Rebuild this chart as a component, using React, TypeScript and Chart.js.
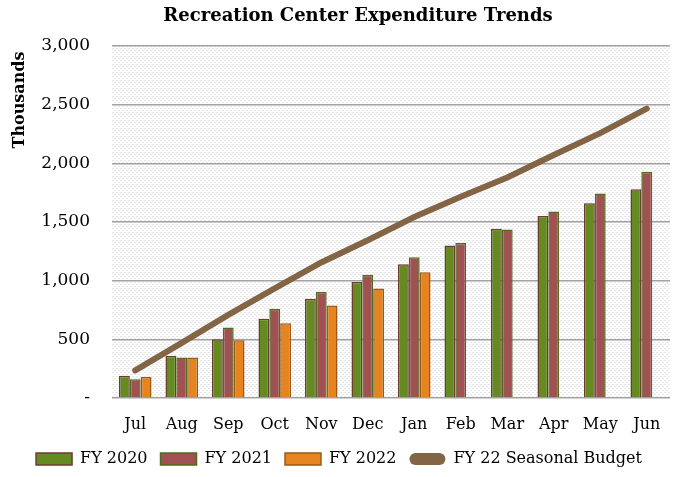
import React, { useEffect, useRef } from "react";
import { Chart, registerables } from "chart.js";

Chart.register(...registerables);

const months = ["Jul", "Aug", "Sep", "Oct", "Nov", "Dec", "Jan", "Feb", "Mar", "Apr", "May", "Jun"];
const fy2020 = [190, 360, 500, 675, 845, 988, 1140, 1300, 1443, 1551, 1660, 1780];
const fy2021 = [160, 345, 600, 760, 905, 1050, 1200, 1320, 1437, 1589, 1743, 1929];
const fy2022 = [178, 345, 492, 638, 788, 934, 1071, null, null, null, null, null];
const budget = [235, 470, 708, 934, 1155, 1345, 1543, 1716, 1880, 2071, 2257, 2466];
const yTicks = [0, 500, 1000, 1500, 2000, 2500, 3000];
const titleText = "Recreation Center Expenditure Trends";
const yTitleText = "Thousands";

const FONT = "'DejaVu Serif', 'Liberation Serif', serif";

function makePattern(ctx: CanvasRenderingContext2D) {
  const c = document.createElement("canvas");
  c.width = 4;
  c.height = 4;
  const p = c.getContext("2d")!;
  p.fillStyle = "#fcfcfc";
  p.fillRect(0, 0, 4, 4);
  p.fillStyle = "#e6e6e6";
  p.fillRect(0, 0, 2, 1);
  p.fillRect(2, 2, 2, 1);
  return ctx.createPattern(c, "repeat");
}

const bgPlugin = {
  id: "plotBg",
  beforeDraw(chart: any) {
    const { ctx, chartArea } = chart;
    const pat = makePattern(ctx);
    ctx.save();
    ctx.fillStyle = pat || "#eeeeee";
    ctx.fillRect(chartArea.left, chartArea.top, chartArea.right - chartArea.left, chartArea.bottom - chartArea.top);
    ctx.restore();
  },
  afterDraw(chart: any) {
    const { ctx } = chart;
    ctx.save();
    ctx.fillStyle = "#000";
    ctx.textAlign = "center";
    ctx.textBaseline = "middle";
    ctx.font = `bold 18px ${FONT}`;
    ctx.fillText(titleText, 358, 16);
    ctx.translate(20, 100);
    ctx.rotate(-Math.PI / 2);
    ctx.font = `bold 16px ${FONT}`;
    ctx.fillText(yTitleText, 0, 0);
    ctx.restore();
  },
};

export default function App() {
  const ref = useRef<HTMLCanvasElement>(null);
  useEffect(() => {
    document.body.style.margin = "0";
    const chart = new Chart(ref.current!, {
      type: "bar",
      data: {
        labels: months,
        datasets: [
          {
            label: "FY 2020",
            data: fy2020,
            backgroundColor: "#658a21",
            borderColor: "#6b3d30",
            borderWidth: 1.5,
            order: 1,
            categoryPercentage: 0.7,
            barPercentage: 1,
          } as any,
          {
            label: "FY 2021",
            data: fy2021,
            backgroundColor: "#a05252",
            borderColor: "#4e6b1e",
            borderWidth: 1.5,
            order: 1,
            categoryPercentage: 0.7,
            barPercentage: 1,
          },
          {
            label: "FY 2022",
            data: fy2022,
            backgroundColor: "#e6851f",
            borderColor: "#9a5a1a",
            borderWidth: 1.5,
            order: 1,
            categoryPercentage: 0.7,
            barPercentage: 1,
          },
          {
            type: "line",
            label: "FY 22 Seasonal Budget",
            data: budget,
            borderColor: "#836445",
            backgroundColor: "#836445",
            borderWidth: 6,
            borderCapStyle: "round",
            pointRadius: 0,
            tension: 0,
            order: 0,
          } as any,
        ],
      },
      options: {
        animation: false,
        responsive: true,
        maintainAspectRatio: false,
        layout: { padding: { left: 8, right: 8, top: 46, bottom: 0 } },
        plugins: {
          title: { display: false },
          legend: {
            position: "bottom",
            labels: {
              color: "#000",
              font: { family: FONT, size: 16 },
              boxWidth: 36,
              boxHeight: 12,
              padding: 13,
              useBorderRadius: true,
              sort: (a: any, b: any) => a.datasetIndex - b.datasetIndex,
              generateLabels: (chart: any) => {
                const items = Chart.defaults.plugins.legend.labels.generateLabels(chart);
                return items.map((it: any) => {
                  if (it.datasetIndex === 3) {
                    return { ...it, lineWidth: 0, borderRadius: 6, fillStyle: "#836445" };
                  }
                  return { ...it, lineWidth: 1.5, borderRadius: 0 };
                });
              },
            },
          },
          tooltip: { enabled: false },
        },
        scales: {
          x: {
            grid: { display: false },
            border: { display: false },
            ticks: { color: "#000", font: { family: FONT, size: 16 }, padding: 9 },
            afterFit: (scale: any) => {
              scale.height = 40;
            },
          },
          y: {
            min: 0,
            max: 3000,
            afterBuildTicks: (scale: any) => {
              scale.ticks = yTicks.map((v) => ({ value: v }));
            },
            afterFit: (scale: any) => {
              scale.width = 104;
            },
            grid: { color: "#a3a3a3", lineWidth: 1.5, drawTicks: false },
            border: { display: false },
            ticks: {
              color: "#000",
              font: { family: FONT, size: 17 },
              padding: 22,
              callback: (v: any) => (Number(v) === 0 ? "-" : Number(v).toLocaleString("en-US")),
            },
            title: { display: false },
          },
        },
      },
      plugins: [bgPlugin],
    });
    return () => chart.destroy();
  }, []);
  return (
    <div style={{ position: "relative", width: 678, height: 477 }}>
      <canvas ref={ref} />
    </div>
  );
}
